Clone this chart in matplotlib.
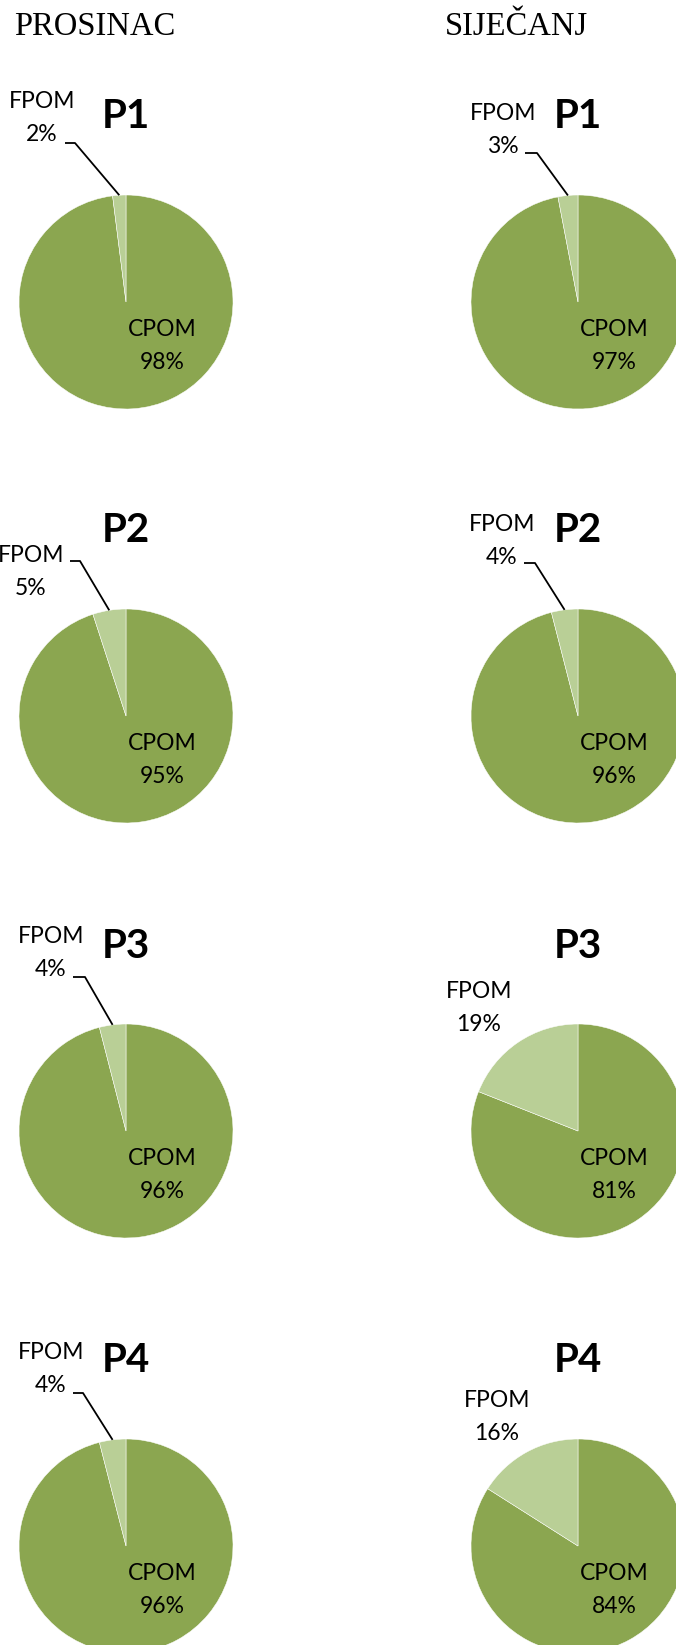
import numpy as np
import matplotlib
matplotlib.use("Agg")
import matplotlib.pyplot as plt

# podaci
months = ["PROSINAC", "SIJEČANJ"]
sites = ["P1", "P2", "P3", "P4"]
categories = ["CPOM", "FPOM"]
cpom_prosinac = [98, 95, 96, 96]
fpom_prosinac = [2, 5, 4, 4]
cpom_sijecanj = [97, 96, 81, 84]
fpom_sijecanj = [3, 4, 19, 16]

colors = ["#8BA650", "#B9CF96"]

# raspored (pikseli)
W, H = 676, 1645
R = 107
col_x = [126, 578]
row_y = [302, 716, 1131, 1546]
header_x = [95, 516]

# FPOM oznaka: (dx, dy_centar_bloka, leader (y, x0, x1) ili None), dy prema dolje
fpom_layout = [
    [(-84, -184, (-159, -61, -51)), (-95, -144, (-155, -56, -46)),
     (-75, -178, (-154, -53, -41)), (-75, -177, (-153, -53, -43))],
    [(-75, -172, (-149, -53, -41)), (-76, -175, (-153, -54, -43)),
     (-99, -123, None), (-81, -129, None)],
]
cpom_offset = (36, 44)

label_font = "Lato"

fig = plt.figure(figsize=(W / 100, H / 100), dpi=100)

for j, month in enumerate(months):
    fig.text(header_x[j] / W, 1 - 27 / H, month, ha="center", va="center",
             family="Liberation Serif", fontsize=23.5)

data = [(cpom_prosinac, fpom_prosinac), (cpom_sijecanj, fpom_sijecanj)]

aw, ah = 420, 480
for j in range(2):
    cpom, fpom = data[j]
    for i, site in enumerate(sites):
        cx, cy = col_x[j], row_y[i]
        ax = fig.add_axes([(cx - aw / 2) / W, (H - cy - ah / 2) / H, aw / W, ah / H])
        wedges, _ = ax.pie([cpom[i], fpom[i]], colors=colors, startangle=90,
                           counterclock=False, radius=1,
                           wedgeprops=dict(edgecolor="white", linewidth=0.35))
        ax.set_xlim(-aw / 2 / R, aw / 2 / R)
        ax.set_ylim(-ah / 2 / R, ah / 2 / R)
        ax.set_aspect("auto")
        ax.axis("off")

        ax.text(0, 185 / R, site, ha="center", va="center", family=label_font,
                fontweight="bold", fontsize=29)

        ax.text(cpom_offset[0] / R, -cpom_offset[1] / R, f"CPOM\n{cpom[i]}%",
                ha="center", va="center", family=label_font, fontsize=16.5,
                linespacing=1.7)

        dx, dy, leader = fpom_layout[j][i]
        ax.text(dx / R, -dy / R, f"FPOM\n{fpom[i]}%", ha="center", va="center",
                family=label_font, fontsize=16.5, linespacing=1.7)
        if leader is not None:
            ly, x0, x1 = leader
            w = wedges[1]
            mid = np.deg2rad((w.theta1 + w.theta2) / 2)
            ax.plot([x0 / R, x1 / R, np.cos(mid)], [-ly / R, -ly / R, np.sin(mid)],
                    color="black", lw=1.3, solid_capstyle="butt")

fig.savefig("out.png", dpi=100)
